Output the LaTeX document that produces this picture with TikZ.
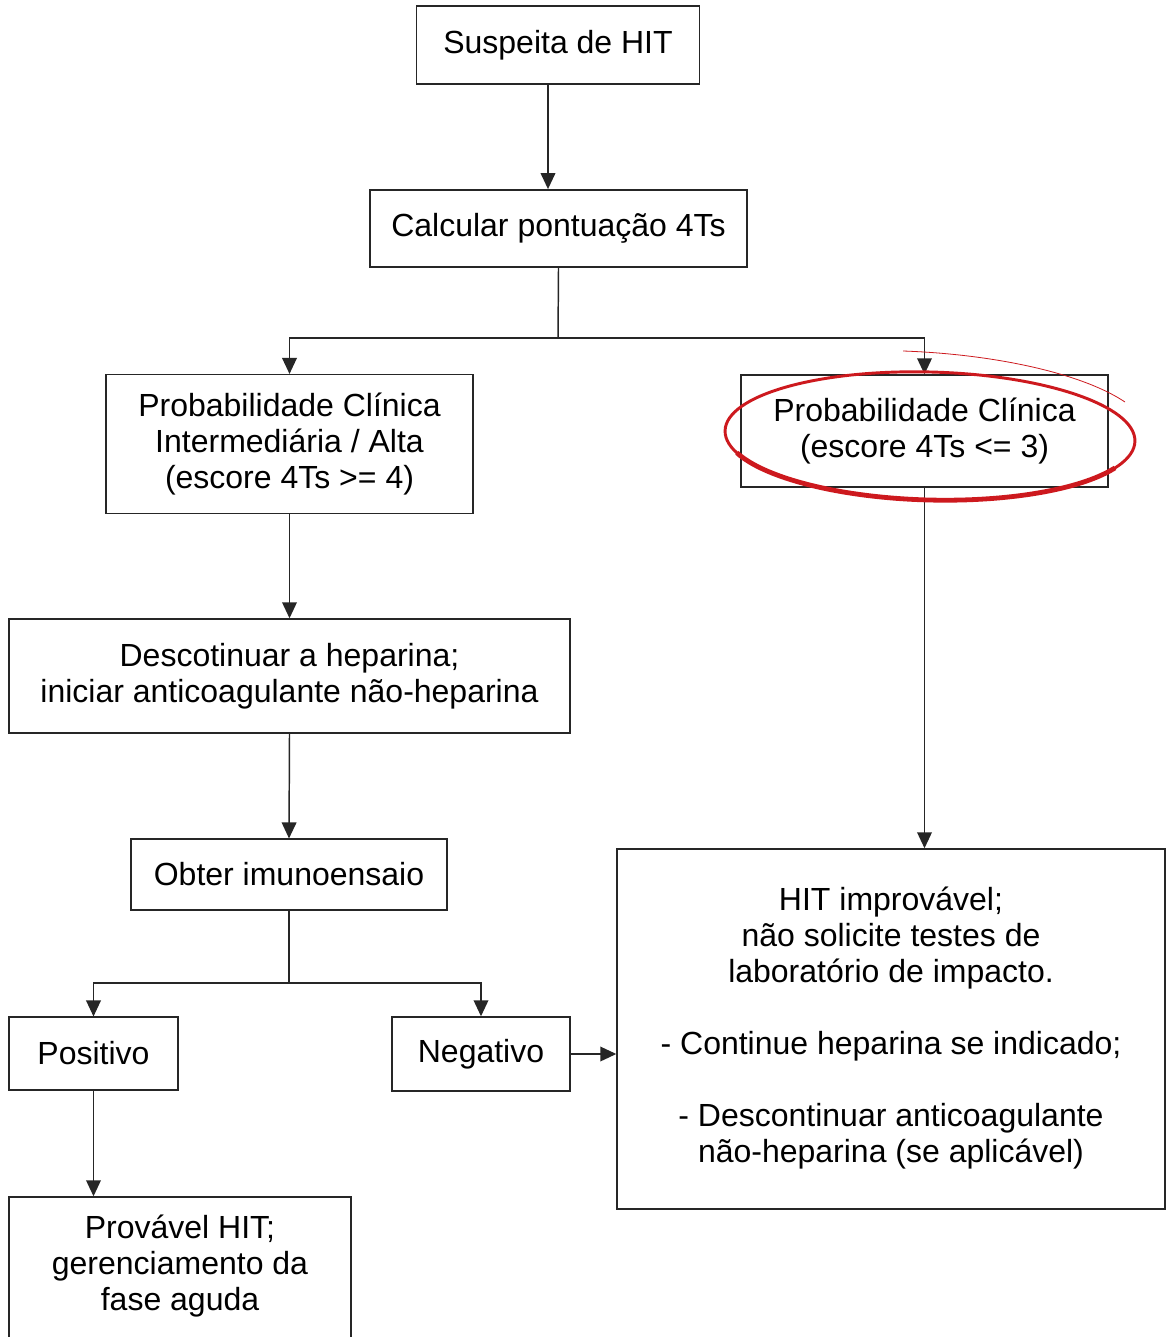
\documentclass[tikz,border=0pt]{standalone}
\usepackage{fontspec}
\setmainfont{Liberation Sans}
\usetikzlibrary{arrows.meta}
\definecolor{redink}{RGB}{205,25,30}
\begin{document}
\begin{tikzpicture}[x=0.75pt,y=-0.75pt,
  box/.style={draw=black!85,line width=1.1pt,inner sep=0pt,align=center,
    font=\fontsize{24}{27}\selectfont},
  txt/.style={font=\fontsize{24}{27}\selectfont,align=center,anchor=north,inner sep=0pt},
  link/.style={draw=black!85,line width=1.1pt,-{Triangle[width=11pt,length=12pt]}},
  plain/.style={draw=black!85,line width=1.1pt}]
\clip (0,0) rectangle (1172,1337);
\fill[white] (0,0) rectangle (1172,1337);

\node[box,minimum width=212pt,minimum height=58.5pt] (A) at (558,45) {Suspeita de HIT};
\node[box,minimum width=283pt,minimum height=58pt] (B) at (558.5,228.5) {Calcular pontuação 4Ts};
\node[box,minimum width=275pt,minimum height=104pt] (C) at (289.5,444) {Probabilidade Clínica\\Intermediária / Alta\\(escore 4Ts >= 4)};
\node[box,minimum width=275pt,minimum height=84pt] (D) at (924.5,431) {Probabilidade Clínica\\(escore 4Ts <= 3)};
\node[box,minimum width=421pt,minimum height=85.5pt] (E) at (289.5,676) {Descotinuar a heparina;\\iniciar anticoagulante não-heparina};
\node[box,minimum width=237pt,minimum height=53pt] (F) at (289,874.5) {Obter imunoensaio};
\node[box,minimum width=127pt,minimum height=54.5pt] (G) at (93.5,1053.5) {Positivo};
\node[box,minimum width=133.5pt,minimum height=55.5pt] (H) at (481,1054) {Negativo};
\node[box,minimum width=411pt,minimum height=270pt] (I) at (891,1029) {};
\node[txt] (Itext) at (891,887)
  {HIT improvável;\\não solicite testes de\\laboratório de impacto.\\[27pt]- Continue heparina se indicado;\\[27pt]- Descontinuar anticoagulante\\não-heparina (se aplicável)};
\node[box,minimum width=256.5pt,minimum height=135pt] (J) at (180,1287) {};
\node[txt] (Jtext) at (180,1215)
  {Provável HIT;\\gerenciamento da\\fase aguda};

% connectors
\draw[link] (A.south -| 548,0) -- (B.north -| 548,0);
\coordinate (s1) at (558,338);
\draw[plain] (B.south) -- (s1);
\draw[link] (s1) -| (C.north);
\draw[link] (s1) -| (D.north);
\draw[link] (C.south) -- (E.north);
\draw[link] (E.south) -- (F.north);
\coordinate (s2) at (289,983);
\draw[plain] (F.south) -- (s2);
\draw[link] (s2) -| (G.north);
\draw[link] (s2) -| (H.north);
\draw[link] (H.east) -- (I.west |- H.east);
\draw[link] (D.south) -- (I.north -| D.south);
\draw[link] (G.south) -- (J.north -| G.south);

% red hand-drawn ellipse
\draw[redink,line width=2.2pt,rotate around={-1.5:(930,436)}] (930,436) ellipse [x radius=205, y radius=64];
\draw[redink,line width=3.6pt,rotate around={-1.5:(930,436)}] (930,436) ++(25:205 and 64) arc[start angle=25,end angle=160,x radius=205,y radius=64];
\draw[redink,line width=0.6pt] (903,351) .. controls (990,354) and (1080,372) .. (1125,402);
\end{tikzpicture}
\end{document}
